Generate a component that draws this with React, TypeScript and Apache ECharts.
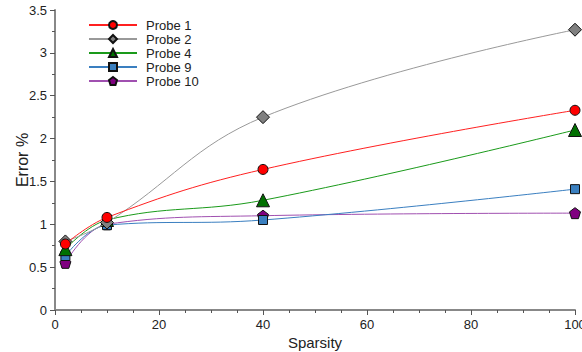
import React, { useEffect, useRef } from "react";
import * as echarts from "echarts";

const sparsity = [2, 10, 40, 100];
const probe1 = [0.77, 1.08, 1.64, 2.33];
const probe2 = [0.8, 1.02, 2.25, 3.27];
const probe4 = [0.71, 1.05, 1.28, 2.1];
const probe9 = [0.63, 0.99, 1.05, 1.41];
const probe10 = [0.55, 1.0, 1.1, 1.13];

const seriesNames = ["Probe 1", "Probe 2", "Probe 4", "Probe 9", "Probe 10"];
const seriesData = [probe1, probe2, probe4, probe9, probe10];
const lineColors = ["#ff2020", "#999999", "#1a9a1a", "#3a7fc0", "#a050b0"];
const markerColors = ["#ff0000", "#808080", "#007000", "#3a7fbf", "#800080"];
const PENTAGON = "path://M0,-10 L9.51,-3.09 L5.88,8.09 L-5.88,8.09 L-9.51,-3.09 Z";
const symbols = ["circle", "diamond", "triangle", "rect", PENTAGON];
const symbolSizes = [10, 13, 13, 9, 11];

export default function App() {
  const ref = useRef<HTMLDivElement>(null);
  useEffect(() => {
    if (!ref.current) return;
    const chart = echarts.init(ref.current, null, { renderer: "svg" });
    const font = "Liberation Sans, Arial, sans-serif";
    chart.setOption({
      animation: false,
      textStyle: { fontFamily: font },
      grid: { left: 55, right: 7, top: 10, bottom: 42, outerBoundsMode: "none", containLabel: false },
      legend: {
        orient: "vertical",
        left: 83,
        top: 13,
        itemWidth: 48,
        itemHeight: 10,
        itemGap: 0,
        textStyle: { fontSize: 13, color: "#222", fontFamily: font, lineHeight: 14, padding: [0, 0, 0, 4] },
        data: seriesNames,
      },
      xAxis: {
        type: "value",
        min: 0,
        max: 100,
        interval: 20,
        name: "Sparsity",
        nameLocation: "middle",
        nameGap: 25,
        nameMoveOverlap: false,
        nameTextStyle: { fontSize: 15, color: "#222", fontFamily: font },
        axisLine: { show: true, lineStyle: { color: "#888", width: 2 } },
        axisTick: { show: true, length: 5, lineStyle: { color: "#555" } },
        minorTick: { show: true, splitNumber: 4, length: 3, lineStyle: { color: "#555" } },
        axisLabel: { fontSize: 13, color: "#222", margin: 8 },
        splitLine: { show: false },
      },
      yAxis: {
        type: "value",
        min: 0,
        max: 3.5,
        interval: 0.5,
        name: "Error %",
        nameLocation: "middle",
        nameGap: 25,
        nameMoveOverlap: false,
        nameRotate: 90,
        nameTextStyle: { fontSize: 16, color: "#222", fontFamily: font },
        axisLine: { show: true, lineStyle: { color: "#888", width: 2 } },
        axisTick: { show: true, length: 5, lineStyle: { color: "#555" } },
        minorTick: { show: true, splitNumber: 2, length: 3, lineStyle: { color: "#555" } },
        axisLabel: { fontSize: 13, color: "#222", margin: 8 },
        splitLine: { show: false },
      },
      series: seriesNames.map((name, i) => ({
        name,
        type: "line",
        smooth: 0.4,
        z: 10 - i,
        data: sparsity.map((x, j) => [x, seriesData[i][j]]),
        symbol: symbols[i],
        symbolSize: symbolSizes[i],
        showAllSymbol: true,
        lineStyle: { color: lineColors[i], width: 1 },
        itemStyle: { color: markerColors[i], borderColor: "#111", borderWidth: 1 },
        emphasis: { disabled: true },
      })),
    });
    return () => chart.dispose();
  }, []);
  return (
    <div
      ref={ref}
      style={{ position: "fixed", left: 0, top: 0, width: 582, height: 352, background: "#fff" }}
    />
  );
}
